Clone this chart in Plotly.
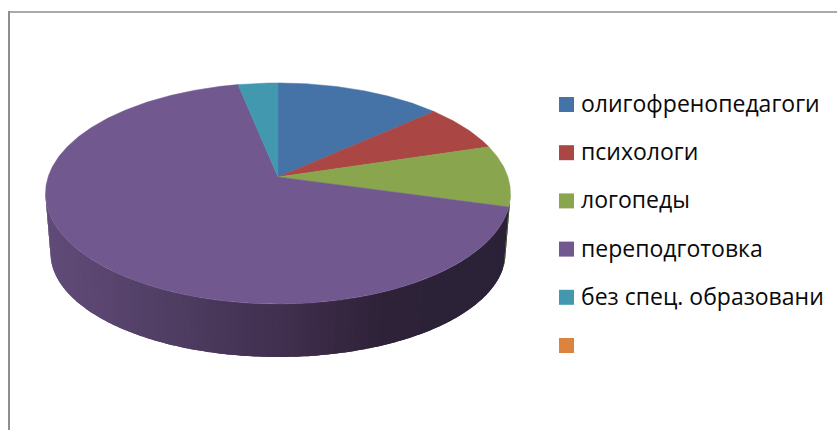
import numpy as np
import plotly.graph_objects as go

categories = ["олигофренопедагоги", "психологи", "логопеды", "переподготовка", "без спец. образовани", ""]
values = [13.4, 6.9, 9.0, 67.5, 3.2, 0.0]
colors = ["#4572a7", "#aa4643", "#89a54e", "#71588f", "#4198af", "#db843d"]

W, H = 837, 430
CX = 278.0
K = 0.149
TOP = dict(y0=177.0, a=232.5, b=110.5)
BOT = dict(y0=237.5, a=227.5, b=104.0)
WALL_X = [45, 100, 200, 278, 330, 380, 510]
WALL_RGB = [(97, 76, 121), (90, 70, 112), (76, 58, 94), (65, 48, 80), (57, 41, 68), (46, 35, 57), (43, 34, 55)]
GREEN_WALL = "#3f4a24"


def project(deg, face):
    t = np.radians(deg)
    X, Y = np.sin(t), np.cos(t)
    s = np.sqrt(1 - K ** 2)
    w = 1 + K * Y
    return CX + face["a"] * s * X / w, face["y0"] - face["b"] * (1 - K ** 2) * Y / w


fig = go.Figure()
edges = np.concatenate([[0], np.cumsum(values)]) / sum(values) * 360
vis0 = 90 + np.degrees(np.arcsin(K))
vis1 = 270 - np.degrees(np.arcsin(K))

# side wall, near half only, drawn as shaded strips; each strip runs on under the next to hide seams
for i in range(len(values)):
    lo, hi = max(edges[i], vis0), min(edges[i + 1], vis1)
    if hi <= lo:
        continue
    n = max(1, int((hi - lo) / 1.5))
    st = np.linspace(lo, hi, n + 1)
    step = st[1] - st[0]
    for j in range(n):
        arc = np.linspace(st[j], min(st[j + 1] + step, hi), 5)
        xt, yt = project(arc, TOP)
        xb, yb = project(arc[::-1], BOT)
        if categories[i] == "логопеды":
            col = GREEN_WALL
        else:
            xm = project(st[j] + step / 2, TOP)[0]
            rgb = [np.interp(xm, WALL_X, [c[k] for c in WALL_RGB]) for k in range(3)]
            col = "rgb(%d,%d,%d)" % tuple(rgb)
        fig.add_trace(go.Scatter(x=np.r_[xt, xb], y=np.r_[yt, yb], mode="none", fill="toself",
                                 fillcolor=col, hoverinfo="skip", showlegend=False))

# top face slices
for i in range(len(values)):
    if values[i] <= 0:
        continue
    arc = np.linspace(edges[i], edges[i + 1], max(3, int(edges[i + 1] - edges[i]) * 2))
    xa, ya = project(arc, TOP)
    fig.add_trace(go.Scatter(x=np.r_[CX, xa, CX], y=np.r_[TOP["y0"], ya, TOP["y0"]], mode="lines",
                             fill="toself", fillcolor=colors[i], line=dict(color=colors[i], width=0.5),
                             name=categories[i], hoverinfo="name", showlegend=False))

# legend
LEG_X, LEG_Y0, LEG_DY = 566.5, 104.5, 48.2
leg_y = [LEG_Y0 + LEG_DY * i for i in range(len(categories))]
fig.add_trace(go.Scatter(x=[LEG_X] * len(categories), y=leg_y, mode="markers",
                         marker=dict(symbol="square", size=15, color=colors, line=dict(width=0)),
                         hoverinfo="skip", showlegend=False))
for c, y in zip(categories, leg_y):
    if c:
        fig.add_annotation(x=579, y=y - 1.5, text=c, xref="x", yref="y", xanchor="left", yanchor="middle",
                           showarrow=False, font=dict(family="Open Sans", size=23, color="#0a0a0a"))

# chart frame, cropped on the right and bottom
BORDER = "#8e8e8e"
fig.add_shape(type="line", x0=9, x1=9, y0=11, y1=H, xref="x", yref="y", line=dict(color=BORDER, width=2))
fig.add_shape(type="line", x0=8, x1=W, y0=12, y1=12, xref="x", yref="y", line=dict(color=BORDER, width=1.5))

fig.update_layout(width=W, height=H, margin=dict(l=0, r=0, t=0, b=0), paper_bgcolor="white", plot_bgcolor="white",
                  xaxis=dict(range=[0, W], visible=False, fixedrange=True),
                  yaxis=dict(range=[H, 0], visible=False, fixedrange=True), showlegend=False)
fig.write_html("out.html", config={"displayModeBar": False},
               post_script="document.body.style.margin='0';document.body.style.overflow='hidden';")
